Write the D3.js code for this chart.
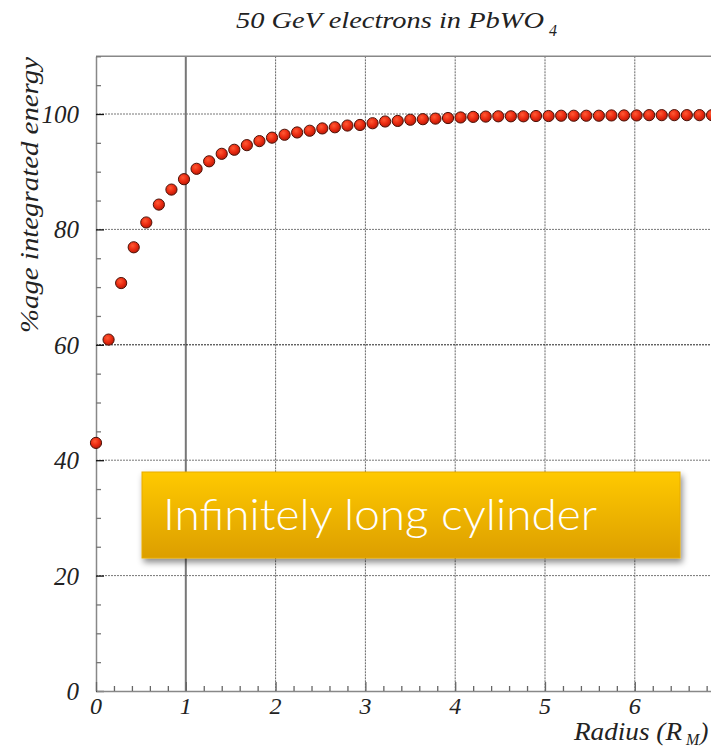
<!DOCTYPE html>
<html>
<head>
<meta charset="utf-8">
<script src="https://cdn.jsdelivr.net/npm/d3@7"></script>
<style>
  html, body { margin: 0; padding: 0; background: #fff; overflow: hidden; }
  svg { display: block; }
</style>
</head>
<body>
<div id="chart"></div>
<script>
// Data
const radius = [0, 0.14, 0.28, 0.42, 0.56, 0.70, 0.84, 0.98, 1.12, 1.26,
  1.40, 1.54, 1.68, 1.82, 1.96, 2.10, 2.24, 2.38, 2.52, 2.66,
  2.80, 2.94, 3.08, 3.22, 3.36, 3.50, 3.64, 3.78, 3.92, 4.06,
  4.20, 4.34, 4.48, 4.62, 4.76, 4.90, 5.04, 5.18, 5.32, 5.46,
  5.60, 5.74, 5.88, 6.02, 6.16, 6.30, 6.44, 6.58, 6.72, 6.86];
const energy = [43.0, 60.9, 70.7, 76.9, 81.2, 84.3, 86.9, 88.7, 90.5, 91.8,
  93.1, 93.8, 94.6, 95.3, 95.9, 96.4, 96.8, 97.1, 97.5, 97.7,
  98.0, 98.1, 98.4, 98.7, 98.8, 99.0, 99.1, 99.2, 99.3, 99.4,
  99.5, 99.55, 99.6, 99.6, 99.6, 99.65, 99.65, 99.7, 99.7, 99.7,
  99.7, 99.75, 99.75, 99.75, 99.8, 99.8, 99.8, 99.8, 99.8, 99.8];
const xTicks = [0, 1, 2, 3, 4, 5, 6];
const yTicks = [0, 20, 40, 60, 80, 100];
const title = '50 GeV electrons in PbWO';
const titleSub = '4';
const xTitle = 'Radius (R';
const xTitleSub = 'M';
const yTitle = '%age integrated energy';
const boxLabel = 'Infinitely long cylinder';

const W = 711, H = 747;
const serif = '"Liberation Serif", "DejaVu Serif", serif';

const svg = d3.select('#chart').append('svg')
  .attr('width', W)
  .attr('height', H);

const defs = svg.append('defs');
const rg = defs.append('radialGradient').attr('id', 'dot')
  .attr('cx', '40%').attr('cy', '35%').attr('r', '65%');
rg.append('stop').attr('offset', '0%').attr('stop-color', '#ff5a34');
rg.append('stop').attr('offset', '55%').attr('stop-color', '#ec2c12');
rg.append('stop').attr('offset', '100%').attr('stop-color', '#b81a08');

const lg = defs.append('linearGradient').attr('id', 'gold')
  .attr('x1', 0).attr('y1', 0).attr('x2', 0).attr('y2', 1);
lg.append('stop').attr('offset', '0%').attr('stop-color', '#ffc900');
lg.append('stop').attr('offset', '100%').attr('stop-color', '#dc9e00');

defs.append('filter').attr('id', 'shadow')
  .attr('x', '-10%').attr('y', '-20%').attr('width', '130%').attr('height', '160%')
  .append('feDropShadow')
  .attr('dx', 2).attr('dy', 4).attr('stdDeviation', 3)
  .attr('flood-color', '#000').attr('flood-opacity', 0.45);

// scales
const x = d3.scaleLinear().domain([0, 7]).range([96, 96 + 7 * 89.8]);
const y = d3.scaleLinear().domain([0, 110]).range([691, 56.3]);

const plot = svg.append('g');

// grid
plot.append('g').selectAll('line')
  .data(xTicks.filter(d => d > 0))
  .join('line')
  .attr('x1', d => x(d)).attr('x2', d => x(d))
  .attr('y1', y(110)).attr('y2', y(0))
  .attr('stroke', d => d == 1 ? '#777' : '#666')
  .attr('stroke-width', d => d == 1 ? 2 : 1)
  .attr('stroke-dasharray', d => d == 1 ? null : '2,1');

plot.append('g').selectAll('line')
  .data(yTicks.filter(d => d > 0))
  .join('line')
  .attr('x1', x(0)).attr('x2', W)
  .attr('y1', d => y(d)).attr('y2', d => y(d))
  .attr('stroke', d => d == 60 ? '#222' : '#777')
  .attr('stroke-width', 1)
  .attr('stroke-dasharray', '2,1');

// frame
plot.append('line')
  .attr('x1', x(0)).attr('x2', W).attr('y1', y(110)).attr('y2', y(110))
  .attr('stroke', '#888').attr('stroke-width', 1.5);

// axes
const yAxis = d3.axisRight(y)
  .tickValues(d3.range(0, 111, 5))
  .tickSize(0)
  .tickFormat('');
const ya = plot.append('g')
  .attr('transform', `translate(${x(0)},0)`)
  .call(yAxis);
ya.select('.domain').attr('stroke', '#888').attr('stroke-width', 1.5);
ya.selectAll('.tick line')
  .attr('x2', d => d % 20 == 0 ? 8 : 5)
  .attr('stroke', d => d % 20 == 0 ? '#111' : '#777')
  .attr('stroke-width', 1.3);

const xAxis = d3.axisTop(x)
  .tickValues(d3.range(0, 36).map(i => i * 0.2))
  .tickSize(0)
  .tickFormat('');
const xa = plot.append('g')
  .attr('transform', `translate(0,${y(0)})`)
  .call(xAxis);
xa.select('.domain').attr('stroke', '#888').attr('stroke-width', 1.5);
xa.selectAll('.tick line')
  .attr('y2', (d, i) => i % 5 == 0 ? -9 : -5)
  .attr('stroke', '#666')
  .attr('stroke-width', 1.3);

// tick labels
svg.append('g').selectAll('text')
  .data(yTicks)
  .join('text')
  .attr('x', 79)
  .attr('y', d => y(d) + 9)
  .attr('text-anchor', 'end')
  .attr('font-family', serif)
  .attr('font-style', 'italic')
  .attr('font-size', 25)
  .attr('fill', '#222')
  .text(d => d);

svg.append('g').selectAll('text')
  .data(xTicks)
  .join('text')
  .attr('x', d => x(d))
  .attr('y', 714)
  .attr('text-anchor', 'middle')
  .attr('font-family', serif)
  .attr('font-style', 'italic')
  .attr('font-size', 24)
  .attr('fill', '#222')
  .text(d => d);

// points
plot.append('g').selectAll('circle')
  .data(radius.map((r, i) => [r, energy[i]]))
  .join('circle')
  .attr('cx', d => x(d[0]))
  .attr('cy', d => y(d[1]))
  .attr('r', 5.6)
  .attr('fill', 'url(#dot)')
  .attr('stroke', '#4a1208')
  .attr('stroke-width', 1);

// titles
const t = svg.append('text')
  .attr('x', 236).attr('y', 28)
  .attr('font-family', serif)
  .attr('font-style', 'italic')
  .attr('font-size', 24)
  .attr('fill', '#222');
t.append('tspan').text(title)
  .attr('textLength', 308).attr('lengthAdjust', 'spacingAndGlyphs');
t.append('tspan').text(titleSub)
  .attr('x', 549).attr('dy', 8).attr('font-size', 16);

const xt = svg.append('text')
  .attr('x', 574).attr('y', 740)
  .attr('font-family', serif)
  .attr('font-style', 'italic')
  .attr('font-size', 25)
  .attr('fill', '#222');
xt.append('tspan').text(xTitle)
  .attr('textLength', 108).attr('lengthAdjust', 'spacingAndGlyphs');
xt.append('tspan').text(xTitleSub)
  .attr('x', 686).attr('dy', 5).attr('font-size', 16);
xt.append('tspan').text(')')
  .attr('x', 700).attr('dy', -5);

svg.append('text')
  .attr('transform', 'translate(38,333) rotate(-90)')
  .attr('font-family', serif)
  .attr('font-style', 'italic')
  .attr('font-size', 25)
  .attr('fill', '#222')
  .attr('textLength', 276)
  .attr('lengthAdjust', 'spacingAndGlyphs')
  .text(yTitle);

// overlay box
const box = svg.append('g');
box.append('rect')
  .attr('x', 142).attr('y', 472)
  .attr('width', 538).attr('height', 86)
  .attr('fill', 'url(#gold)')
  .attr('stroke', '#e8ac00')
  .attr('stroke-width', 1)
  .attr('filter', 'url(#shadow)');
box.append('text')
  .attr('x', 163).attr('y', 530)
  .attr('font-family', 'Lato, "Open Sans", sans-serif')
  .attr('font-weight', 300)
  .attr('font-size', 44)
  .attr('fill', '#fff')
  .attr('textLength', 434)
  .attr('lengthAdjust', 'spacingAndGlyphs')
  .text(boxLabel);
</script>
</body>
</html>
